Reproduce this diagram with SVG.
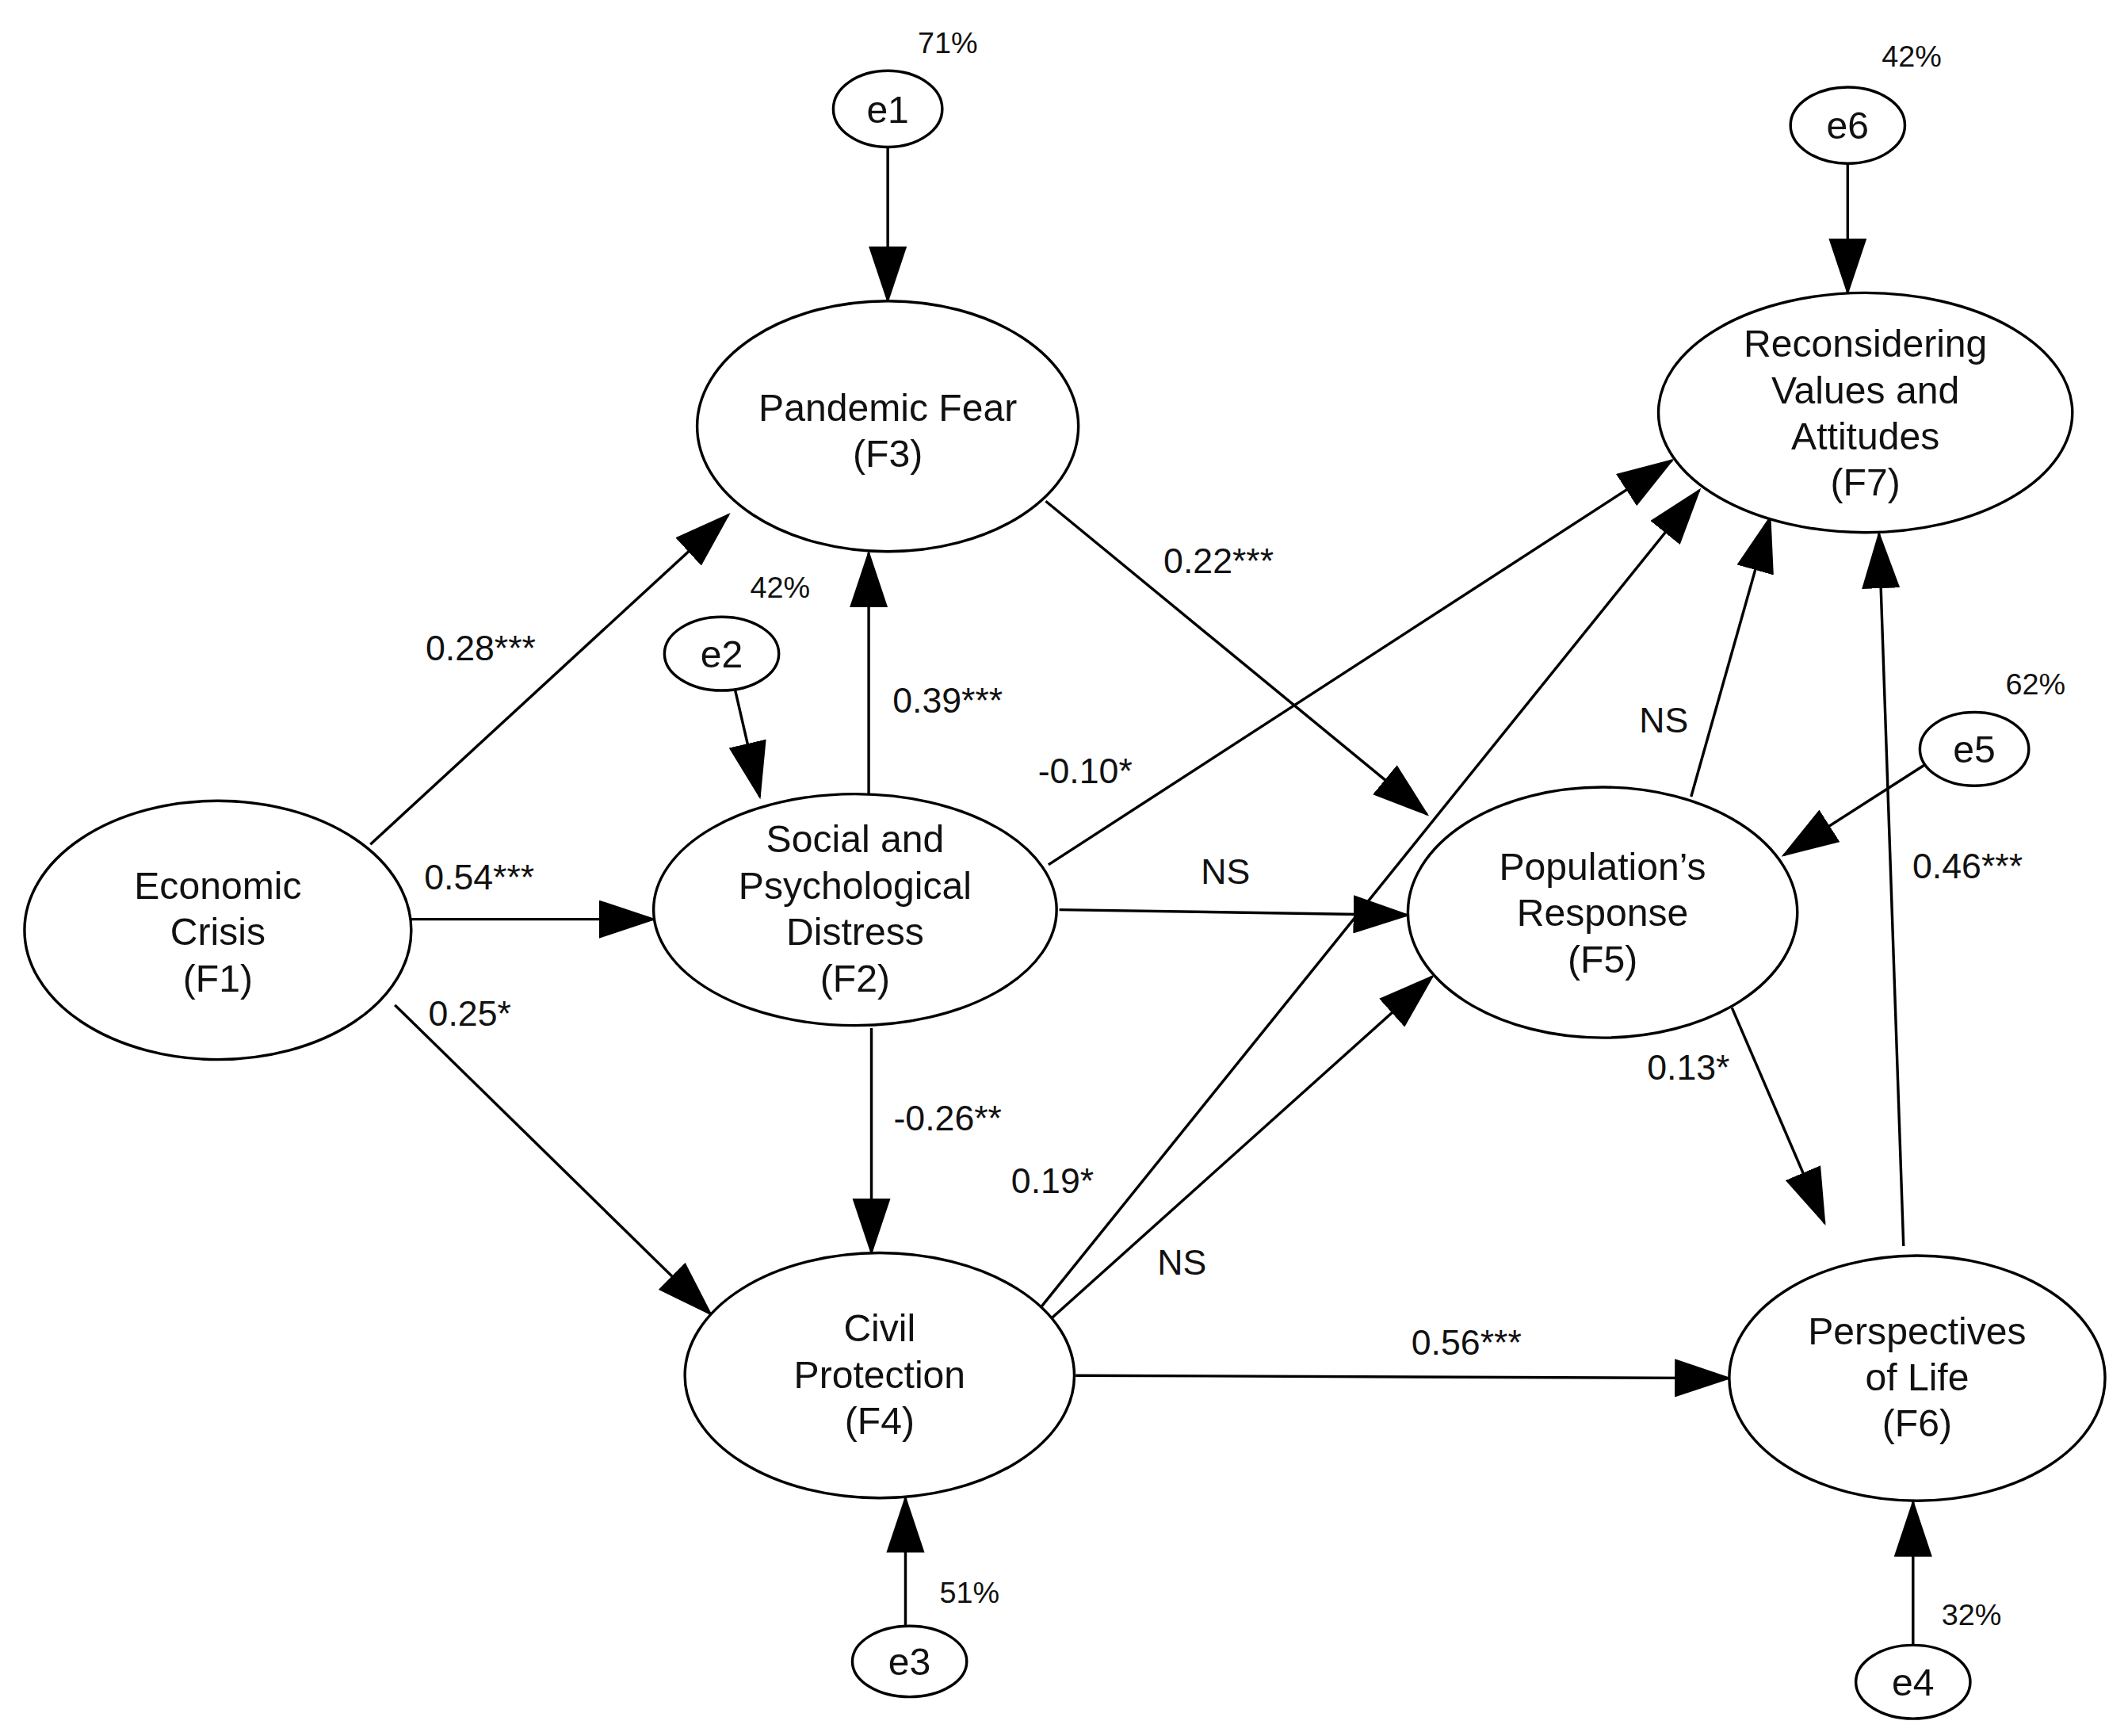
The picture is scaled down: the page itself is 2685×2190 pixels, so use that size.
<svg xmlns="http://www.w3.org/2000/svg" width="2685" height="2190" viewBox="0 0 2685 2190">
<style>
.n{fill:#fff;stroke:#000;stroke-width:2}
text{font-family:"Liberation Sans",Arial,sans-serif;fill:#111;text-anchor:middle}
.t{font-size:28px}
.c{font-size:26px}
.p{font-size:22px}
.l{stroke:#000;stroke-width:2;fill:none;marker-end:url(#a)}
</style>
<defs><marker id="a" markerUnits="userSpaceOnUse" markerWidth="42" markerHeight="28" refX="40" refY="14" orient="auto"><path d="M0,0L42,14L0,28z" fill="#000"/></marker></defs>
<rect width="2685" height="2190" fill="#fff"/>
<g transform="scale(1.718)">
<g id="connectors">
<line class="l" x1="652" y1="108" x2="652" y2="221"/>
<line class="l" x1="272" y1="620" x2="535" y2="378"/>
<line class="l" x1="302" y1="675" x2="480" y2="675"/>
<line class="l" x1="290" y1="738" x2="522" y2="965"/>
<line class="l" x1="540" y1="507" x2="558" y2="585"/>
<line class="l" x1="638" y1="583" x2="638" y2="406"/>
<line class="l" x1="640" y1="755" x2="640" y2="920"/>
<line class="l" x1="770" y1="635" x2="1228" y2="338"/>
<line class="l" x1="778" y1="668" x2="1034" y2="672"/>
<line class="l" x1="768" y1="368" x2="1048" y2="598"/>
<line class="l" x1="762" y1="963" x2="1248" y2="360"/>
<line class="l" x1="770" y1="970" x2="1052" y2="717"/>
<line class="l" x1="790" y1="1010" x2="1270" y2="1012"/>
<line class="l" x1="1242" y1="585" x2="1300" y2="380"/>
<line class="l" x1="1272" y1="740" x2="1340" y2="898"/>
<line class="l" x1="1398" y1="915" x2="1380" y2="392"/>
<line class="l" x1="1413" y1="562" x2="1310" y2="628"/>
<line class="l" x1="1357" y1="120" x2="1357" y2="215"/>
<line class="l" x1="665" y1="1194" x2="665" y2="1100"/>
<line class="l" x1="1405" y1="1208" x2="1405" y2="1103"/>
</g>
<g id="F1"><ellipse class="n" cx="160" cy="683" rx="142" ry="95"/><text class="t" x="160" y="660">Economic</text><text class="t" x="160" y="694">Crisis</text><text class="t" x="160" y="728">(F1)</text></g>
<g id="F2"><ellipse class="n" cx="628" cy="668" rx="148" ry="85"/><text class="t" x="628" y="626">Social and</text><text class="t" x="628" y="660">Psychological</text><text class="t" x="628" y="694">Distress</text><text class="t" x="628" y="728">(F2)</text></g>
<g id="F3"><ellipse class="n" cx="652" cy="313" rx="140" ry="92"/><text class="t" x="652" y="309">Pandemic Fear</text><text class="t" x="652" y="343">(F3)</text></g>
<g id="F4"><ellipse class="n" cx="646" cy="1010" rx="143" ry="90"/><text class="t" x="646" y="985">Civil</text><text class="t" x="646" y="1019">Protection</text><text class="t" x="646" y="1053">(F4)</text></g>
<g id="F5"><ellipse class="n" cx="1177" cy="670" rx="143" ry="92"/><text class="t" x="1177" y="646">Population’s</text><text class="t" x="1177" y="680">Response</text><text class="t" x="1177" y="714">(F5)</text></g>
<g id="F6"><ellipse class="n" cx="1408" cy="1012" rx="138" ry="90"/><text class="t" x="1408" y="987">Perspectives</text><text class="t" x="1408" y="1021">of Life</text><text class="t" x="1408" y="1055">(F6)</text></g>
<g id="F7"><ellipse class="n" cx="1370" cy="303" rx="152" ry="88"/><text class="t" x="1370" y="262">Reconsidering</text><text class="t" x="1370" y="296">Values and</text><text class="t" x="1370" y="330">Attitudes</text><text class="t" x="1370" y="364">(F7)</text></g>
<g id="e1"><ellipse class="n" cx="652" cy="80" rx="40" ry="28"/><text class="t" x="652" y="90">e1</text></g>
<g id="e2"><ellipse class="n" cx="530" cy="480" rx="42" ry="27"/><text class="t" x="530" y="490">e2</text></g>
<g id="e3"><ellipse class="n" cx="668" cy="1220" rx="42" ry="26"/><text class="t" x="668" y="1230">e3</text></g>
<g id="e4"><ellipse class="n" cx="1405" cy="1235" rx="42" ry="27"/><text class="t" x="1405" y="1245">e4</text></g>
<g id="e5"><ellipse class="n" cx="1450" cy="550" rx="40" ry="27"/><text class="t" x="1450" y="560">e5</text></g>
<g id="e6"><ellipse class="n" cx="1357" cy="92" rx="42" ry="28"/><text class="t" x="1357" y="102">e6</text></g>
<g id="labels">
<text class="c" x="353" y="485">0.28***</text>
<text class="c" x="352" y="653">0.54***</text>
<text class="c" x="345" y="753">0.25*</text>
<text class="c" x="696" y="523">0.39***</text>
<text class="c" x="797" y="575">-0.10*</text>
<text class="c" x="900" y="649">NS</text>
<text class="c" x="895" y="421">0.22***</text>
<text class="c" x="696" y="830">-0.26**</text>
<text class="c" x="773" y="876">0.19*</text>
<text class="c" x="868" y="936">NS</text>
<text class="c" x="1077" y="995">0.56***</text>
<text class="c" x="1222" y="538">NS</text>
<text class="c" x="1240" y="793">0.13*</text>
<text class="c" x="1445" y="645">0.46***</text>
<text class="p" x="696" y="39">71%</text>
<text class="p" x="573" y="439">42%</text>
<text class="p" x="1495" y="510">62%</text>
<text class="p" x="1404" y="49">42%</text>
<text class="p" x="712" y="1177">51%</text>
<text class="p" x="1448" y="1193">32%</text>
</g>
</g>
</svg>
